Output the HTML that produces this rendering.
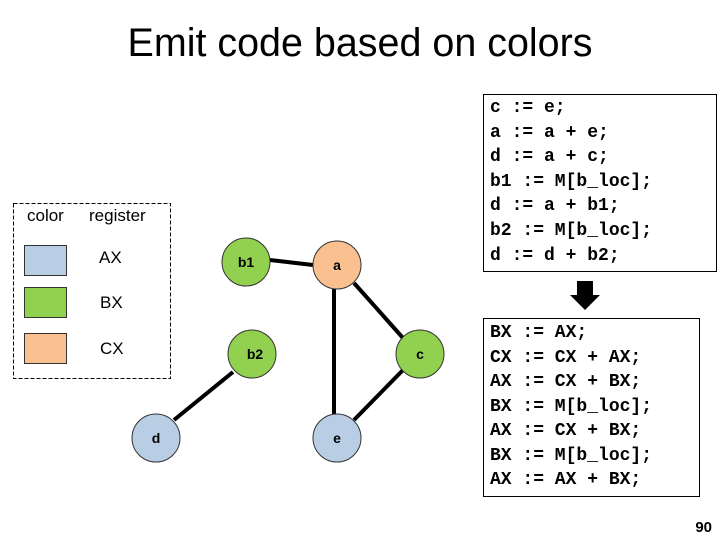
<!DOCTYPE html>
<html><head><meta charset="utf-8"><style>
html,body{margin:0;padding:0;background:#fff;width:720px;height:540px;overflow:hidden}
</style></head><body>
<svg width="720" height="540" xmlns="http://www.w3.org/2000/svg">
<text x="360" y="56" text-anchor="middle" font-family="Liberation Sans, sans-serif" font-size="40" textLength="465" lengthAdjust="spacingAndGlyphs">Emit code based on colors</text>

<rect x="13.5" y="203.5" width="157" height="175" fill="none" stroke="#000" stroke-dasharray="4,2"/>
<g font-family="Liberation Sans, sans-serif" font-size="17">
<text x="27" y="221">color</text>
<text x="89" y="221">register</text>
<text x="99" y="263">AX</text>
<text x="100" y="308">BX</text>
<text x="100" y="354">CX</text>
</g>
<rect x="24.5" y="245.5" width="42" height="30" fill="#b9cde5" stroke="#333"/>
<rect x="24.5" y="287.5" width="42" height="30" fill="#92d050" stroke="#333"/>
<rect x="24.5" y="333.5" width="42" height="30" fill="#fac090" stroke="#333"/>

<g stroke="#000" stroke-width="4">
<line x1="270" y1="260" x2="313" y2="265"/>
<line x1="334" y1="289" x2="334" y2="414"/>
<line x1="354" y1="283" x2="403" y2="338"/>
<line x1="403" y1="370" x2="354" y2="420"/>
<line x1="233" y1="372" x2="174" y2="420"/>
</g>
<g stroke="#333" stroke-width="1">
<circle cx="246" cy="262" r="24" fill="#92d050"/>
<circle cx="337" cy="265" r="24" fill="#fac090"/>
<circle cx="252" cy="354" r="24" fill="#92d050"/>
<circle cx="420" cy="354" r="24" fill="#92d050"/>
<circle cx="156" cy="438" r="24" fill="#b9cde5"/>
<circle cx="337" cy="438" r="24" fill="#b9cde5"/>
</g>
<g font-family="Liberation Sans, sans-serif" font-size="14" font-weight="bold" text-anchor="middle">
<text x="246" y="267">b1</text>
<text x="337" y="270">a</text>
<text x="255" y="359">b2</text>
<text x="420" y="359">c</text>
<text x="156" y="443">d</text>
<text x="337" y="443">e</text>
</g>

<rect x="483.5" y="94.5" width="233" height="177" fill="none" stroke="#000"/>
<rect x="483.5" y="318.5" width="216" height="178" fill="none" stroke="#000"/>
<g font-family="Liberation Mono, monospace" font-size="18" font-weight="bold" xml:space="preserve">
<text x="490" y="112">c  := e;</text>
<text x="490" y="137">a  := a + e;</text>
<text x="490" y="161">d  := a + c;</text>
<text x="490" y="186">b1 := M[b_loc];</text>
<text x="490" y="210">d  := a + b1;</text>
<text x="490" y="235">b2 := M[b_loc];</text>
<text x="490" y="260">d  := d + b2;</text>
<text x="490" y="337">BX := AX;</text>
<text x="490" y="362">CX := CX + AX;</text>
<text x="490" y="386">AX := CX + BX;</text>
<text x="490" y="411">BX := M[b_loc];</text>
<text x="490" y="435">AX := CX + BX;</text>
<text x="490" y="460">BX := M[b_loc];</text>
<text x="490" y="484">AX := AX + BX;</text>
</g>
<polygon points="577,281 593,281 593,295 600,295 585,310 570,295 577,295" fill="#000"/>
<text x="712" y="532" text-anchor="end" font-family="Liberation Sans, sans-serif" font-size="15" font-weight="bold">90</text>
</svg>
</body></html>
